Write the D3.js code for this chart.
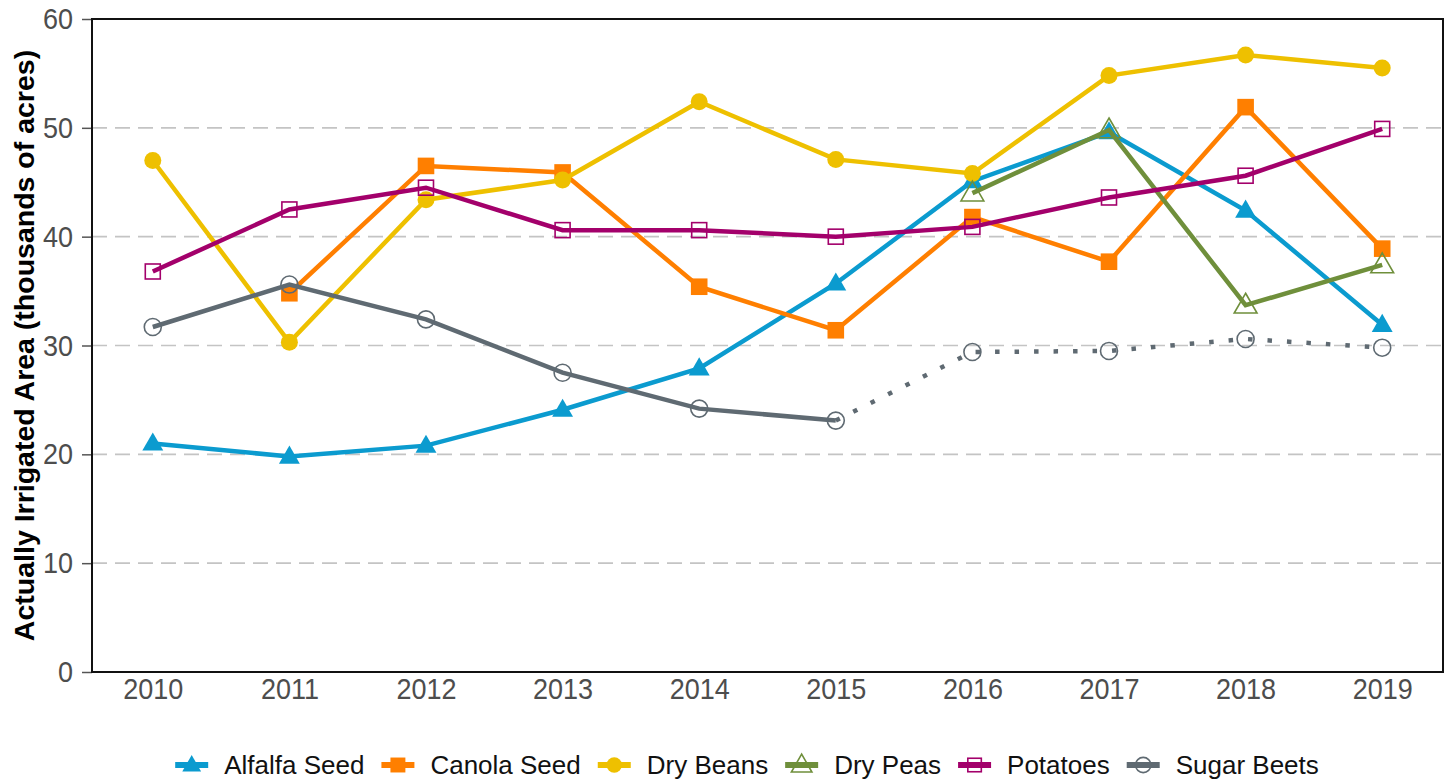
<!DOCTYPE html>
<html>
<head>
<meta charset="utf-8">
<script src="https://cdn.jsdelivr.net/npm/d3@7"></script>
<style>
  body { margin: 0; background: #fff; }
  svg { font-family: "Liberation Sans", Arial, sans-serif; }
</style>
</head>
<body>
<svg id="chart" width="1453" height="783"></svg>
<script>
// Data (thousands of acres)
const years = [2010, 2011, 2012, 2013, 2014, 2015, 2016, 2017, 2018, 2019];
const alfalfaSeed = [21.0, 19.8, 20.8, 24.1, 27.9, 35.7, 45.1, 49.6, 42.4, 31.9];
const canolaSeed = [null, 34.8, 46.5, 45.9, 35.4, 31.4, 41.8, 37.7, 51.9, 38.9];
const dryBeans = [47.0, 30.3, 43.4, 45.2, 52.4, 47.1, 45.8, 54.8, 56.7, 55.5];
const dryPeas = [null, null, null, null, null, null, 44.0, 49.8, 33.7, 37.4];
const potatoes = [36.8, 42.5, 44.5, 40.6, 40.6, 40.0, 40.9, 43.6, 45.6, 49.9];
const sugarBeets = [31.7, 35.6, 32.4, 27.5, 24.2, 23.1, 29.4, 29.5, 30.6, 29.8];
const yTicks = [0, 10, 20, 30, 40, 50, 60];

const series = [
  {name: "Alfalfa Seed", values: alfalfaSeed, color: "#0b9bcf", shape: "triangle", fill: true},
  {name: "Canola Seed", values: canolaSeed, color: "#ff7f00", shape: "square", fill: true},
  {name: "Dry Beans", values: dryBeans, color: "#eec000", shape: "circle", fill: true},
  {name: "Dry Peas", values: dryPeas, color: "#6f8f3b", shape: "triangle", fill: false},
  {name: "Potatoes", values: potatoes, color: "#a3006b", shape: "square", fill: false},
  {name: "Sugar Beets", values: sugarBeets, color: "#5f6a72", shape: "circle", fill: false, dottedFrom: 2015}
];

const margin = {left: 92, right: 10, top: 19, bottom: 111};
const svg = d3.select("#chart");
const width = +svg.attr("width"), height = +svg.attr("height");

const x = d3.scalePoint().domain(years).range([margin.left, width - margin.right]).padding(0.445);
const y = d3.scaleLinear().domain([0, 60]).range([height - margin.bottom, margin.top]);

// Grid lines
svg.append("g").selectAll("line")
    .data(yTicks.filter(t => t > 0 && t < 60)).enter()
    .append("line")
        .attr("x1", margin.left).attr("x2", width - margin.right)
        .attr("y1", d => y(d)).attr("y2", d => y(d))
        .attr("stroke", "#c4c4c4")
        .attr("stroke-width", 1.6)
        .attr("stroke-dasharray", "15,8");

// Y axis (labels slightly narrowed, like the reference font)
const yAxis = svg.append("g")
    .attr("transform", "translate(" + margin.left + ",0)")
    .call(d3.axisLeft(y).tickValues(yTicks).tickSize(10).tickPadding(11));
yAxis.select(".domain").remove();
yAxis.selectAll(".tick line").attr("stroke", "#555").attr("stroke-width", 1.5);
yAxis.selectAll(".tick text")
    .attr("fill", "#4d4d4d")
    .attr("transform", "scale(0.9,1)")
    .style("font-size", "30px");

// X axis
const xAxis = svg.append("g")
    .attr("transform", "translate(0," + y(0) + ")")
    .call(d3.axisBottom(x).tickSize(0).tickPadding(6).tickFormat(d3.format("d")));
xAxis.select(".domain").remove();
xAxis.selectAll(".tick text")
    .attr("fill", "#4d4d4d")
    .attr("transform", "scale(0.9,1)")
    .style("font-size", "30px");

// Panel border
svg.append("rect")
    .attr("x", margin.left).attr("y", y(60))
    .attr("width", width - margin.right - margin.left)
    .attr("height", y(0) - y(60))
    .attr("fill", "none")
    .attr("stroke", "#111")
    .attr("stroke-width", 2);

// Y title
svg.append("text")
    .attr("transform", "translate(34," + ((y(0) + y(60)) / 2) + ") rotate(-90)")
    .attr("text-anchor", "middle")
    .style("font-size", "28.5px")
    .style("font-weight", "bold")
    .text("Actually Irrigated Area (thousands of acres)");

// Marker drawing
function addMarker(g, s, cx, cy, k) {
  k = k || 1;
  const sw = s.fill ? 0 : 1.6;
  if (s.shape === "triangle") {
    const r = (s.fill ? 11 : 12) * k;
    g.append("path")
        .attr("d", "M" + cx + "," + (cy - r) + "L" + (cx + r * 0.95) + "," + (cy + r * 0.65) +
                   "L" + (cx - r * 0.95) + "," + (cy + r * 0.65) + "Z")
        .attr("fill", s.fill ? s.color : "none").attr("stroke", s.color).attr("stroke-width", sw);
  } else if (s.shape === "square") {
    const h = (s.fill ? 8.3 : 7.5) * k;
    g.append("rect")
        .attr("x", cx - h).attr("y", cy - h).attr("width", 2 * h).attr("height", 2 * h)
        .attr("fill", s.fill ? s.color : "none").attr("stroke", s.color).attr("stroke-width", sw);
  } else {
    g.append("circle")
        .attr("cx", cx).attr("cy", cy).attr("r", 8.5 * k)
        .attr("fill", s.fill ? s.color : "none").attr("stroke", s.color).attr("stroke-width", sw);
  }
}

const line = d3.line()
    .defined(d => d.v != null)
    .x(d => x(d.year))
    .y(d => y(d.v));

series.forEach(s => {
  const g = svg.append("g").attr("class", "series");
  const pts = years.map((yr, i) => ({year: yr, v: s.values[i]}));
  if (s.dottedFrom) {
    g.append("path")
        .attr("d", line(pts.filter(d => d.year <= s.dottedFrom)))
        .attr("fill", "none").attr("stroke", s.color).attr("stroke-width", 4.5);
    g.append("path")
        .attr("d", line(pts.filter(d => d.year >= s.dottedFrom)))
        .attr("fill", "none").attr("stroke", s.color).attr("stroke-width", 4.5)
        .attr("stroke-dasharray", "4.5,15");
  } else {
    g.append("path")
        .attr("d", line(pts))
        .attr("fill", "none").attr("stroke", s.color).attr("stroke-width", 4.5);
  }
  pts.filter(d => d.v != null).forEach(d => addMarker(g, s, x(d.year), y(d.v)));
});

// Legend
const legend = svg.append("g");
let lx = 0;
series.forEach(s => {
  const item = legend.append("g").attr("transform", "translate(" + lx + ",0)");
  item.append("line")
      .attr("x1", 0).attr("x2", 33).attr("y1", 0).attr("y2", 0)
      .attr("stroke", s.color).attr("stroke-width", 6);
  addMarker(item, s, 16.5, 0, 0.9);
  const t = item.append("text")
      .attr("x", 49).attr("y", 9)
      .style("font-size", "26px")
      .attr("fill", "#111")
      .text(s.name);
  lx += 49 + t.node().getComputedTextLength() + 17;
});
lx -= 17;
legend.attr("transform", "translate(" + (747 - lx / 2) + ",765)");
</script>
</body>
</html>
